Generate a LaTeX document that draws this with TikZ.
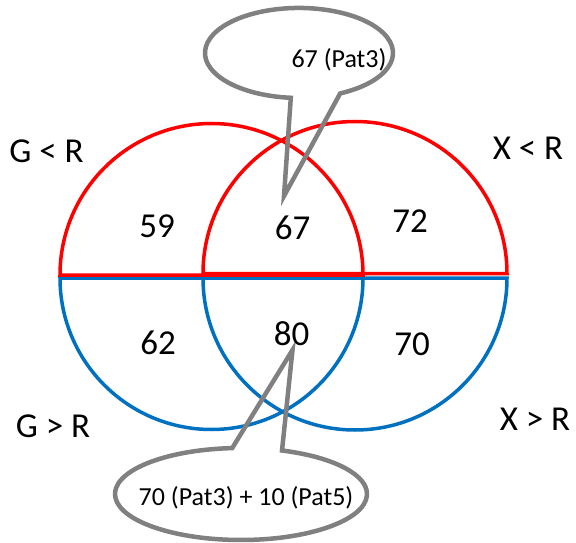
\documentclass[tikz,border=0pt]{standalone}
\usepackage{fontspec}
\setmainfont{Carlito}
\definecolor{vred}{HTML}{FF0000}
\definecolor{vblue}{HTML}{0070C0}
\definecolor{cgray}{HTML}{808080}
\begin{document}
\begin{tikzpicture}[x=1pt,y=1pt,
  redarc/.style={draw=vred,line width=3.5pt},
  bluearc/.style={draw=vblue,line width=3.5pt},
  callout/.style={draw=cgray,line width=4.5pt,line join=miter},
  num/.style={font=\fontsize{35}{38}\selectfont,inner sep=0pt},
  lab/.style={font=\fontsize{35}{38}\selectfont,inner sep=0pt},
  ctext/.style={font=\fontsize{26}{30}\selectfont,inner sep=0pt,anchor=base}]
\useasboundingbox (0,0) rectangle (576,542);
% lower (blue) halves
\draw[bluearc] (60,264) arc[start angle=180,end angle=360,radius=151.5] -- cycle;
\draw[bluearc] (203,264) arc[start angle=180,end angle=360,radius=152] -- cycle;
% upper (red) halves
\draw[redarc] (60,267) arc[start angle=180,end angle=0,radius=151.5] -- cycle;
\draw[redarc] (203,268.5) arc[start angle=180,end angle=0,radius=152] -- cycle;
% top callout
\coordinate (ttip) at (284,346);
\draw[callout] (340.2,448.6) arc[start angle=-64,end angle=265,x radius=94,y radius=45] -- (ttip) -- cycle;
\node[ctext] (t1) at (339,474) {67 (Pat3)};
% bottom callout
\coordinate (btip) at (292.5,192);
\draw[callout] (232.2,93.9) arc[start angle=94,end angle=431,x radius=126,y radius=46] -- (btip) -- cycle;
\node[ctext] (t2) at (246,37) {70 (Pat3) + 10 (Pat5)};
% numbers
\node[num] (n59) at (157,315.5) {59};
\node[num] (n67) at (292.5,314) {67};
\node[num] (n72) at (410,321) {72};
\node[num] (n62) at (158,199) {62};
\node[num] (n80) at (291.5,208.5) {80};
\node[num] (n70) at (412,198) {70};
% labels
\node[lab] (l1) at (46.5,391) {G < R};
\node[lab] (l2) at (528,394) {X < R};
\node[lab] (l3) at (53,116) {G > R};
\node[lab] (l4) at (535,122.5) {X > R};
\end{tikzpicture}
\end{document}
